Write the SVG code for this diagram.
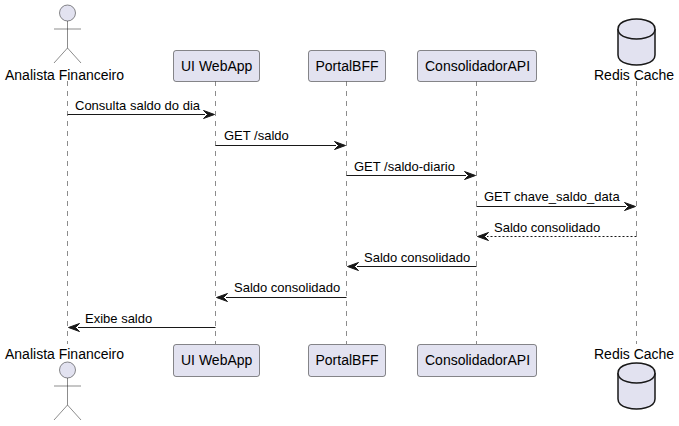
<svg xmlns="http://www.w3.org/2000/svg" width="679" height="426" viewBox="0 0 679 426">
<style>
text{font-family:"Liberation Sans",Arial,sans-serif;font-size:13px;fill:#000}
.n{font-size:14px}
.life{stroke:#181818;stroke-width:.5;stroke-dasharray:5,5;fill:none}
.box{fill:#E2E2F0;stroke:#181818;stroke-width:.5}
.m{stroke:#181818;stroke-width:1;fill:none}
.d{stroke-dasharray:2,2}
.h{fill:#181818;stroke:#181818;stroke-width:1}
.a{fill:none;stroke:#181818;stroke-width:.5}
.db{fill:#E2E2F0;stroke:#181818;stroke-width:1.5}
</style>
<defs>
<g id="actor"><circle class="box" cx="0" cy="8" r="8"/><path class="a" d="M0 16V43M-13.500 24H13.500M0 43L-13.500 58M0 43L13.500 58"/></g>
<g id="cyl"><path class="db" d="M-18.500 10C-18.500 0 0 0 0 0C0 0 18.500 0 18.500 10V36C18.500 46 0 46 0 46C0 46 -18.500 46 -18.500 36Z"/><path class="db" fill="none" d="M-18.500 10C-18.500 20 0 20 0 20C0 20 18.500 20 18.500 10"/></g>
</defs>
<g id="lifelines">
<path class="life" d="M67.500 81V344"/><path class="life" d="M215.500 81V344"/><path class="life" d="M346.500 81V344"/><path class="life" d="M476.500 81V344"/><path class="life" d="M636.500 81V344"/>
</g>
<g id="connectors">
<path class="m" d="M67.500 114.500H205"/><path class="h" d="M203.500 110.500L214.500 114.500L203.500 118.500L207.500 114.500Z"/>
<path class="m" d="M215.500 145.500H336"/><path class="h" d="M334.500 141.500L345.500 145.500L334.500 149.500L338.500 145.500Z"/>
<path class="m" d="M346.500 175.500H466"/><path class="h" d="M464.500 171.500L475.500 175.500L464.500 179.500L468.500 175.500Z"/>
<path class="m" d="M476.500 206.500H626"/><path class="h" d="M624.500 202.500L635.500 206.500L624.500 210.500L628.500 206.500Z"/>
<path class="m d" d="M636.500 236.500H487"/><path class="h" d="M488.500 232.500L477.500 236.500L488.500 240.500L484.500 236.500Z"/>
<path class="m" d="M476.500 266.500H357"/><path class="h" d="M358.500 262.500L347.500 266.500L358.500 270.500L354.500 266.500Z"/>
<path class="m" d="M346.500 297.500H226"/><path class="h" d="M227.500 293.500L216.500 297.500L227.500 301.500L223.500 297.500Z"/>
<path class="m" d="M215.500 327.500H78"/><path class="h" d="M79.500 323.500L68.500 327.500L79.500 331.500L75.500 327.500Z"/>
<text x="75" y="110">Consulta saldo do dia</text>
<text x="224" y="140">GET /saldo</text>
<text x="354" y="171">GET /saldo-diario</text>
<text x="484" y="201">GET chave_saldo_data</text>
<text x="494" y="232">Saldo consolidado</text>
<text x="364" y="262">Saldo consolidado</text>
<text x="234" y="292">Saldo consolidado</text>
<text x="85" y="323">Exibe saldo</text>
</g>
<g id="analista-top"><use href="#actor" x="67.500" y="5"/><text class="n" x="5" y="80">Analista Financeiro</text></g>
<g id="ui-top"><rect class="box" x="173.500" y="50.500" width="86" height="31" rx="2.500"/><text class="n" x="181" y="71">UI WebApp</text></g>
<g id="bff-top"><rect class="box" x="308.500" y="50.500" width="77" height="31" rx="2.500"/><text class="n" x="315.500" y="71">PortalBFF</text></g>
<g id="api-top"><rect class="box" x="417.500" y="50.500" width="119" height="31" rx="2.500"/><text class="n" x="425" y="71">ConsolidadorAPI</text></g>
<g id="redis-top"><use href="#cyl" x="636.500" y="19"/><text class="n" x="594" y="80">Redis Cache</text></g>
<g id="analista-bottom"><text class="n" x="5" y="359">Analista Financeiro</text><use href="#actor" x="67.500" y="362"/></g>
<g id="ui-bottom"><rect class="box" x="173.500" y="344.500" width="86" height="32" rx="2.500"/><text class="n" x="181" y="365">UI WebApp</text></g>
<g id="bff-bottom"><rect class="box" x="308.500" y="344.500" width="77" height="32" rx="2.500"/><text class="n" x="315.500" y="365">PortalBFF</text></g>
<g id="api-bottom"><rect class="box" x="417.500" y="344.500" width="119" height="32" rx="2.500"/><text class="n" x="425" y="365">ConsolidadorAPI</text></g>
<g id="redis-bottom"><text class="n" x="594" y="359">Redis Cache</text><use href="#cyl" x="636.500" y="363"/></g>
</svg>
